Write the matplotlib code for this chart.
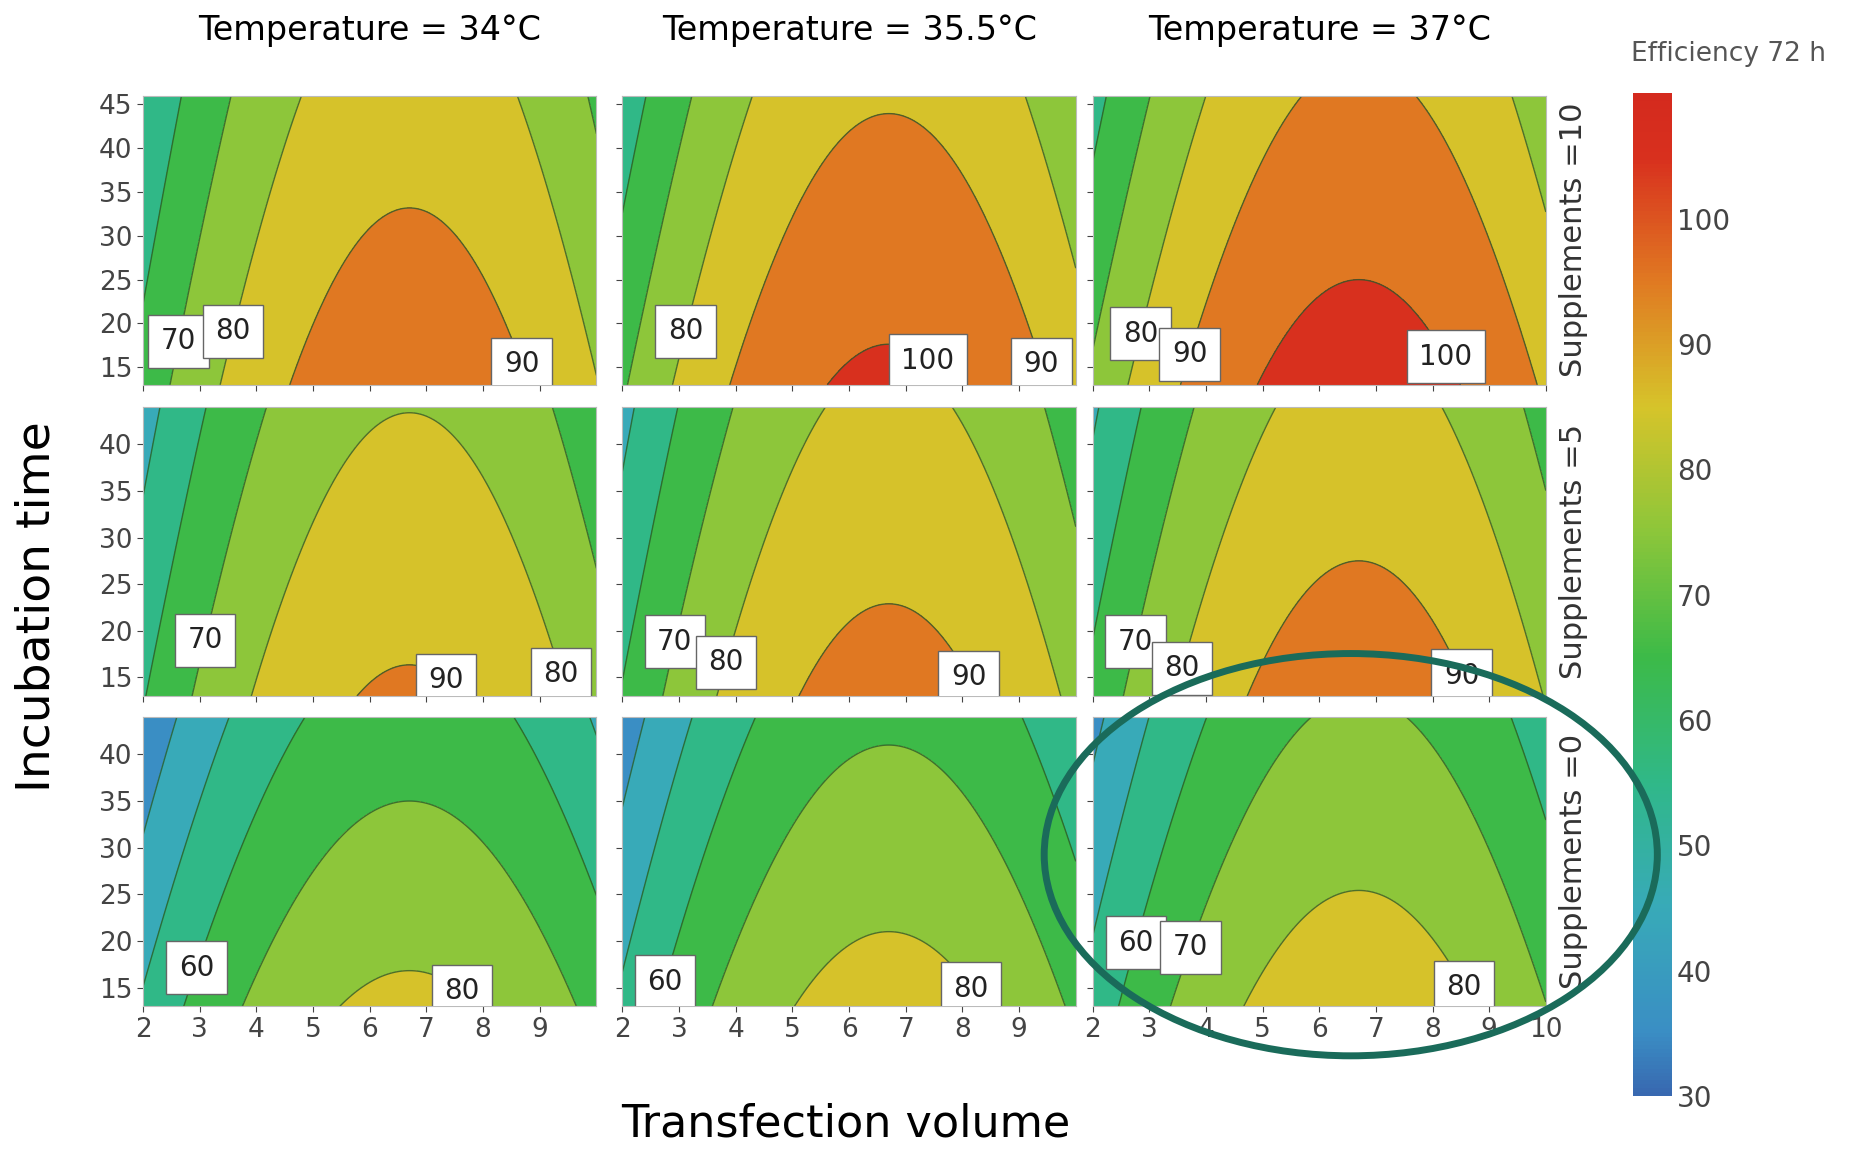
import numpy as np
import matplotlib
matplotlib.use("Agg")
import matplotlib.pyplot as plt
from matplotlib.colors import LinearSegmentedColormap
from matplotlib.patches import Ellipse

temps = ["34°C", "35.5°C", "37°C"]
supps = ["10", "5", "0"]
# peak efficiency at x0, y=15 for each (supplement row, temperature col)
peak = [[96, 101, 104], [90.5, 93, 95], [81, 83, 85]]
curv = [[1.5, 1.5, 1.5], [1.45, 1.5, 1.5], [1.4, 1.45, 1.45]]
yslope = [[0.33, 0.38, 0.4], [0.37, 0.38, 0.4], [0.55, 0.5, 0.48]]
x0 = 6.7
levels = np.arange(30, 120, 10)
label_levels = [40, 50, 60, 70, 80, 90, 100]

cmap = LinearSegmentedColormap.from_list("eff", [
    (0.0, "#3868b0"), (0.0625, "#3a8ec4"), (0.1875, "#38aab8"), (0.3125, "#30b888"),
    (0.4375, "#3cba48"), (0.5625, "#8cc63a"), (0.6875, "#d6c42a"), (0.8125, "#e07a22"),
    (0.9375, "#d8301e"), (1.0, "#d42a1e")])
norm = plt.Normalize(30, 110)

fig = plt.figure(figsize=(18.58, 11.66), dpi=100)
lefts = [0.077, 0.335, 0.588]
bottoms = [1-0.33, 1-0.597, 1-0.863]
W, H = 0.244, 0.248
xs = np.linspace(2, 10, 200)
ys = np.linspace(13, 46, 200)
X, Y = np.meshgrid(xs, ys)
for r in range(3):
    for c in range(3):
        ax = fig.add_axes([lefts[c], bottoms[r], W, H])
        Z = peak[r][c] - curv[r][c]*(X-x0)**2 - yslope[r][c]*(Y-15) \
            - 0.003*(X-x0)**2*(Y-15)
        ax.contourf(X, Y, Z, levels=levels, cmap=cmap, norm=norm)
        cs = ax.contour(X, Y, Z, levels=levels, colors="#2a5a2a", linewidths=1.0,
                        alpha=0.8)
        lbl = ax.clabel(cs, levels=[l for l in label_levels if l in cs.levels],
                        fontsize=20, fmt="%d", inline=False)
        for t in lbl:
            px, py = t.get_position()
            if px < 2.5 or px > 9.4 or py > 42:
                t.set_visible(False)
                continue
            t.set_rotation(0)
            t.set_color("#222")
            t.set_bbox(dict(facecolor="white", edgecolor="#666", pad=9))
        ax.set_xlim(2, 10)
        ax.set_ylim(13, 46 if r == 0 else 44)
        ax.set_yticks(range(15, 50 if r == 0 else 45, 5))
        ax.set_xticks(range(2, 11 if c == 2 else 10))
        ax.tick_params(labelsize=19, colors="#444", length=4)
        for s in ax.spines.values():
            s.set_color("#bbb")
        if c != 0:
            ax.set_yticklabels([])
        if r != 2:
            ax.set_xticklabels([])
        if r == 0:
            ax.set_title("Temperature = " + temps[c], fontsize=24, pad=40)
        if c == 2:
            ax.text(1.06, 0.5, "Supplements =" + supps[r], transform=ax.transAxes,
                    rotation=90, va="center", ha="center", fontsize=22, color="#333")

cax = fig.add_axes([0.879, 0.06, 0.021, 0.86])
sm = matplotlib.cm.ScalarMappable(norm=norm, cmap=cmap)
cb = fig.colorbar(sm, cax=cax, ticks=range(30, 110, 10))
cb.outline.set_visible(False)
cb.ax.tick_params(labelsize=20, colors="#444", length=0)
fig.text(0.878, 0.948, "Efficiency 72 h", fontsize=19, color="#555")
fig.text(0.455, 0.025, "Transfection volume", fontsize=32, ha="center")
fig.text(0.008, 0.48, "Incubation time", fontsize=34, rotation=90, va="center")
fig.add_artist(Ellipse((0.727, 0.267), 0.33, 0.345, transform=fig.transFigure,
                       fill=False, edgecolor="#1a6b5a", lw=5))
fig.savefig("out.png", dpi=100)
